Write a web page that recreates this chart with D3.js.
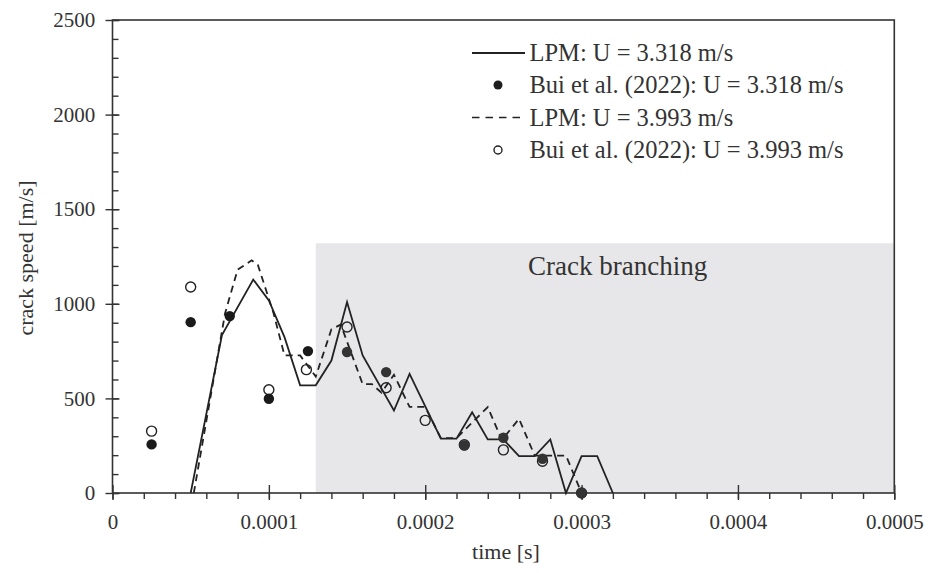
<!DOCTYPE html>
<html><head><meta charset="utf-8">
<script src="https://cdn.jsdelivr.net/npm/d3@7"></script>
<style>body{margin:0;background:#fff}svg{display:block}text{font-family:"Liberation Serif","Times New Roman",serif;fill:#333}</style>
</head><body>
<script>
// LPM U = 3.318 m/s (solid)
const lpm1T = [0.00005,0.00007,0.00009,0.0001,0.00011,0.00012,0.00013,0.00014,0.00015,0.00016,0.00018,0.00019,0.00021,0.00022,0.00023,0.00024,0.00025,0.00026,0.00027,0.00028,0.00029,0.0003,0.00031,0.00032];
const lpm1V = [0,835,1128,1018,824,569,569,700,1009,727,436,630,287,287,427,283,283,195,195,283,0,195,195,0];
// LPM U = 3.993 m/s (dashed)
const lpm2T = [0.000052,0.000072,0.00008,0.000089,0.000093,0.000103,0.00011,0.00012,0.00013,0.00014,0.000146,0.00016,0.000166,0.000172,0.00018,0.00019,0.0002,0.00021,0.00022,0.00024,0.000249,0.00026,0.00027,0.00029,0.0003];
const lpm2V = [0,950,1180,1230,1205,950,727,727,615,865,890,575,575,530,625,455,455,290,290,454,280,392,198,198,0];
// Bui et al. (2022)
const bui1T = [0.000025,0.00005,0.000075,0.0001,0.000125,0.00015,0.000175,0.000225,0.00025,0.000275,0.0003];
const bui1V = [257,903,935,498,750,745,639,251,292,181,0];
const bui2T = [0.000025,0.00005,0.0001,0.000124,0.00015,0.000175,0.0002,0.000225,0.00025,0.000275,0.0003];
const bui2V = [327,1089,546,652,877,556,384,255,228,168,0];
const xTicks = [0,0.0001,0.0002,0.0003,0.0004,0.0005];
const xTickLabels = ["0","0.0001","0.0002","0.0003","0.0004","0.0005"];
const yTicks = [0,500,1000,1500,2000,2500];
const branchStart = 0.00013, branchTop = 1320;
const legendLabels = ["LPM: U = 3.318 m/s","Bui et al. (2022): U = 3.318 m/s","LPM: U = 3.993 m/s","Bui et al. (2022): U = 3.993 m/s"];

const W=930,H=573, L=112.5, R=894.3, T=20, B=493;
const svg=d3.select("body").append("svg").attr("width",W).attr("height",H);
const x=d3.scaleLinear().domain([0,0.0005]).range([L,R]);
const y=d3.scaleLinear().domain([0,2500]).range([B,T]);
const ink="#333";

// shaded region
svg.append("rect").attr("x",x(branchStart)).attr("y",y(branchTop))
  .attr("width",x(0.0005)-x(branchStart)).attr("height",y(0)-y(branchTop)).attr("fill","#e7e7e9");
svg.append("text").attr("x",528).attr("y",275).attr("font-size",27).text("Crack branching");

// frame
svg.append("rect").attr("x",L).attr("y",T).attr("width",R-L).attr("height",B-T)
  .attr("fill","none").attr("stroke",ink).attr("stroke-width",1.6);

// x axis
const gx=svg.append("g").attr("transform",`translate(0,${B})`);
gx.call(d3.axisBottom(x).tickValues(d3.range(0,26).map(i=>i*0.00002)).tickSize(6).tickFormat(""));
gx.append("g").call(d3.axisBottom(x).tickValues(xTicks).tickSize(7).tickFormat((d,i)=>xTickLabels[i]));
gx.selectAll(".domain").remove();
gx.selectAll("line").attr("stroke",ink).attr("stroke-width",1.4);
gx.selectAll("g g .tick line").attr("y1",-8).attr("y2",7);
gx.selectAll("text").attr("font-size",21).attr("fill",ink).attr("dy","1.25em");

// y axis
const gy=svg.append("g").attr("transform",`translate(${L},0)`);
gy.call(d3.axisRight(y).tickValues(d3.range(0,26).map(i=>i*100)).tickSize(6).tickFormat(""));
gy.append("g").call(d3.axisLeft(y).tickValues(yTicks).tickSize(7).tickFormat(d=>d));
gy.selectAll(".domain").remove();
gy.selectAll("line").attr("stroke",ink).attr("stroke-width",1.4);
gy.selectAll("g g .tick line").attr("x1",-7).attr("x2",7);
gy.selectAll("text").attr("font-size",21).attr("fill",ink).attr("dx","-0.35em");

// axis titles
svg.append("text").attr("x",506).attr("y",559).attr("text-anchor","middle").attr("font-size",22).text("time [s]");
svg.append("text").attr("transform",`translate(33,258) rotate(-90)`).attr("text-anchor","middle").attr("font-size",22).text("crack speed [m/s]");

// lines
const line=d3.line().x(d=>x(d[0])).y(d=>y(d[1]));
const d1=lpm1T.map((t,i)=>[t,lpm1V[i]]), d2=lpm2T.map((t,i)=>[t,lpm2V[i]]);
svg.append("path").datum(d2).attr("d",line).attr("fill","none").attr("stroke","#222").attr("stroke-width",1.8).attr("stroke-dasharray","7,5");
svg.append("path").datum(d1).attr("d",line).attr("fill","none").attr("stroke","#222").attr("stroke-width",1.8);

// points
svg.append("g").selectAll("circle").data(bui2T.map((t,i)=>[t,bui2V[i]])).join("circle")
  .attr("cx",d=>x(d[0])).attr("cy",d=>y(d[1])).attr("r",5).attr("fill","none").attr("stroke","#222").attr("stroke-width",1.4);
svg.append("g").selectAll("circle").data(bui1T.map((t,i)=>[t,bui1V[i]])).join("circle")
  .attr("cx",d=>x(d[0])).attr("cy",d=>y(d[1])).attr("r",5.2).attr("fill",(d)=>d[0]>branchStart?"#333":"#1a1a1a");

// legend
const ly=[53,85,117.5,150];
const lg=svg.append("g");
lg.append("line").attr("x1",472).attr("x2",525).attr("y1",ly[0]).attr("y2",ly[0]).attr("stroke","#222").attr("stroke-width",1.8);
lg.append("circle").attr("cx",498).attr("cy",ly[1]).attr("r",4.5).attr("fill","#1e1e1e");
lg.append("line").attr("x1",472).attr("x2",522).attr("y1",ly[2]).attr("y2",ly[2]).attr("stroke","#222").attr("stroke-width",1.6).attr("stroke-dasharray","7.5,6");
lg.append("circle").attr("cx",498).attr("cy",ly[3]).attr("r",4).attr("fill","none").attr("stroke","#222").attr("stroke-width",1.4);
legendLabels.forEach((s,i)=>lg.append("text").attr("x",529.5).attr("y",ly[i]+8).attr("font-size",24.5).text(s));
</script>
</body></html>
